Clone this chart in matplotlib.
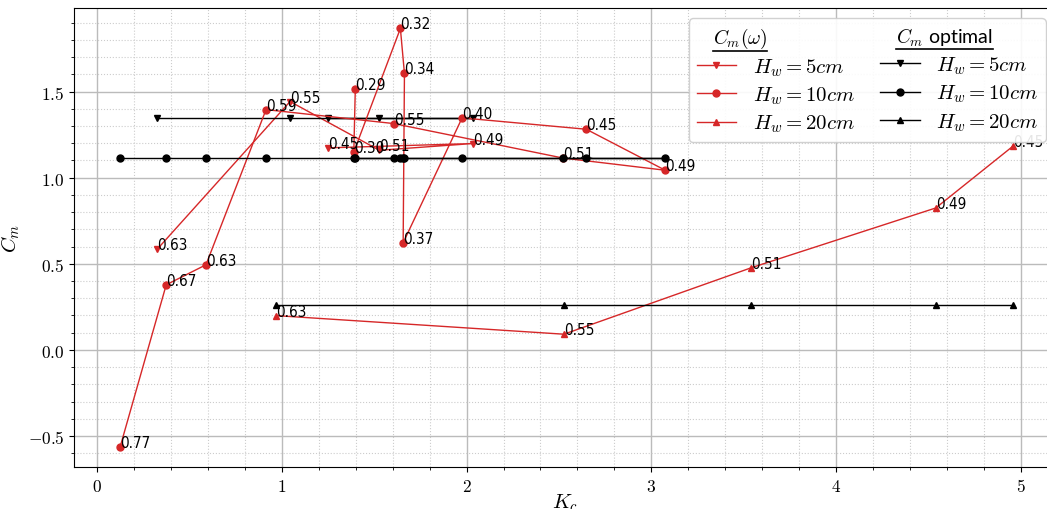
import numpy as np
import matplotlib
matplotlib.use("Agg")
import matplotlib.pyplot as plt
from matplotlib.lines import Line2D
from matplotlib.ticker import MultipleLocator, FuncFormatter

plt.rcParams["mathtext.fontset"] = "cm"

# Hw = 5 cm
kc_5 = [0.325, 1.045, 1.528, 2.034, 1.249]
cm_5 = [0.583, 1.442, 1.159, 1.198, 1.173]
lab_5 = ["0.63", "0.55", "0.51", "0.49", "0.45"]
opt_5 = 1.347

# Hw = 10 cm
kc_10 = [0.126, 0.375, 0.590, 0.915, 1.606, 2.521, 3.075, 2.648, 1.976,
         1.657, 1.664, 1.642, 1.390, 1.398]
cm_10 = [-0.562, 0.378, 0.494, 1.395, 1.314, 1.114, 1.043, 1.281, 1.347,
         0.622, 1.605, 1.866, 1.149, 1.512]
lab_10 = ["0.77", "0.67", "0.63", "0.59", "0.55", "0.51", "0.49", "0.45",
          "0.40", "0.37", "0.34", "0.32", "0.30", "0.29"]
opt_10 = 1.114

# Hw = 20 cm
kc_20 = [0.969, 2.527, 3.541, 4.539, 4.958]
cm_20 = [0.199, 0.091, 0.477, 0.824, 1.184]
lab_20 = ["0.63", "0.55", "0.51", "0.49", "0.45"]
opt_20 = 0.26

red = "#d62728"

fig = plt.figure(figsize=(10.47, 5.10), dpi=100)
ax = fig.add_axes([74/1047, 42/510, (1056-74)/1047, (468-9)/510])

series = [(kc_5, cm_5, lab_5, opt_5, "v", "5cm"),
          (kc_10, cm_10, lab_10, opt_10, "o", "10cm"),
          (kc_20, cm_20, lab_20, opt_20, "^", "20cm")]

red_h = []
blk_h = []
for kc, cm, lab, opt, mk, name in series:
    l1, = ax.plot(kc, cm, color=red, marker=mk, ms=5, lw=1,
                  label=r"$H_w = %s$" % name)
    l2, = ax.plot(kc, np.full(len(kc), opt), color="black", marker=mk, ms=5,
                  lw=1, label=r"$H_w = %s$" % name)
    for x, y, t in zip(kc, cm, lab):
        ax.annotate(t, (x, y), fontsize=11, family="DejaVu Sans",
                    fontstretch="condensed")
    red_h.append(l1)
    blk_h.append(l2)

ax.set_xlim(-0.124, (1056 - 97) / 184.8)
ax.set_ylim(-0.68, 1.985)
ax.xaxis.set_major_locator(MultipleLocator(1))
ax.xaxis.set_minor_locator(MultipleLocator(0.2))
ax.yaxis.set_major_locator(MultipleLocator(0.5))
ax.yaxis.set_minor_locator(MultipleLocator(0.1))
ax.xaxis.set_major_formatter(FuncFormatter(lambda v, p: r"$%d$" % round(v)))
ax.yaxis.set_major_formatter(FuncFormatter(lambda v, p: r"$%.1f$" % v))
ax.tick_params(labelsize=12.5)
ax.grid(which="major", color="#bbbbbb", lw=1)
ax.grid(which="minor", color="#cccccc", ls=":", lw=0.8)
ax.set_axisbelow(True)
ax.set_xlabel(r"$K_c$", fontsize=15, labelpad=-2)
ax.set_ylabel(r"$C_m$", fontsize=15)

blank = Line2D([], [], linestyle="none")
handles = [blank] + red_h + [blank] + blk_h
labels = [r"$C_m(\omega)$"] + [h.get_label() for h in red_h] + \
         [r"$C_m$ optimal"] + [h.get_label() for h in blk_h]
leg = ax.legend(handles, labels, ncol=2, loc="upper right", fontsize=15,
                labelspacing=0.32, handlelength=1.9, handletextpad=0.8,
                columnspacing=1.2, borderaxespad=0.5, borderpad=0.35,
                framealpha=0.9)
texts = leg.get_texts()
texts[0].set_fontsize(14)
texts[4].set_fontsize(14)
texts[4].set_fontfamily(["Lato", "DejaVu Sans"])
for i in (0, 4):
    texts[i].set_x(-40)

fig.canvas.draw()
inv = fig.transFigure.inverted()
for i in (0, 4):
    bb = texts[i].get_window_extent()
    (x0, y0), (x1, _) = inv.transform([(bb.x0, bb.y0 - 1), (bb.x1, bb.y0 - 1)])
    fig.add_artist(Line2D([x0, x1], [y0, y0], color="black", lw=1.2,
                          transform=fig.transFigure))

fig.savefig("out.png", dpi=100)
